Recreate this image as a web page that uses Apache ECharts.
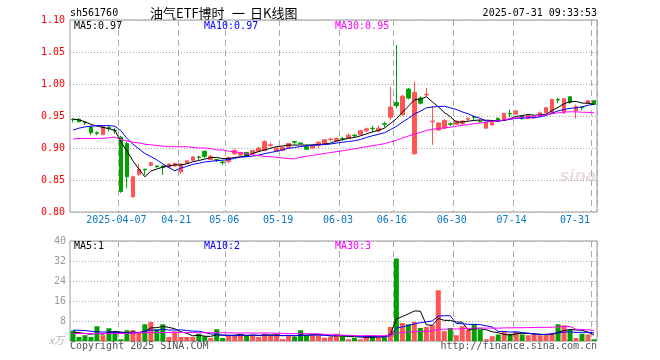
<!DOCTYPE html>
<html><head><meta charset="utf-8">
<script src="https://cdn.jsdelivr.net/npm/echarts@6/dist/echarts.min.js"></script>
<style>html,body{margin:0;padding:0;background:#fff}#c{width:660px;height:360px}</style>
</head><body><div id="c"></div>
<script>
const dates = [
'2025-03-25','2025-03-26','2025-03-27','2025-03-28','2025-03-31',
'2025-04-01','2025-04-02','2025-04-03','2025-04-07','2025-04-08','2025-04-09','2025-04-10','2025-04-11',
'2025-04-14','2025-04-15','2025-04-16','2025-04-17','2025-04-18',
'2025-04-21','2025-04-22','2025-04-23','2025-04-24','2025-04-25',
'2025-04-28','2025-04-29','2025-04-30',
'2025-05-06','2025-05-07','2025-05-08','2025-05-09',
'2025-05-12','2025-05-13','2025-05-14','2025-05-15','2025-05-16',
'2025-05-19','2025-05-20','2025-05-21','2025-05-22','2025-05-23',
'2025-05-26','2025-05-27','2025-05-28','2025-05-29','2025-05-30',
'2025-06-03','2025-06-04','2025-06-05','2025-06-06',
'2025-06-09','2025-06-10','2025-06-11','2025-06-12','2025-06-13',
'2025-06-16','2025-06-17','2025-06-18','2025-06-19','2025-06-20',
'2025-06-23','2025-06-24','2025-06-25','2025-06-26','2025-06-27',
'2025-06-30','2025-07-01','2025-07-02','2025-07-03','2025-07-04',
'2025-07-07','2025-07-08','2025-07-09','2025-07-10','2025-07-11',
'2025-07-14','2025-07-15','2025-07-16','2025-07-17','2025-07-18',
'2025-07-21','2025-07-22','2025-07-23','2025-07-24','2025-07-25',
'2025-07-28','2025-07-29','2025-07-30','2025-07-31'];

const tickDates = ['2025-04-07','2025-04-21','2025-05-06','2025-05-19','2025-06-03','2025-06-16','2025-06-30','2025-07-14','2025-07-31'];
const tickTexts = ['2025-04-07','04-21','05-06','05-19','06-03','06-16','06-30','07-14','07-31'];

const opens = [
0.945,0.945,0.940,0.933,0.924,0.921,0.932,0.928,0.917,0.907,
0.824,0.859,0.867,0.873,0.872,0.872,0.870,0.872,0.863,0.876,
0.881,0.886,0.895,0.882,0.882,0.878,0.879,0.891,0.889,0.893,
0.891,0.895,0.896,0.904,0.895,0.896,0.901,0.910,0.908,0.902,
0.900,0.904,0.907,0.913,0.911,0.915,0.915,0.920,0.921,0.927,
0.931,0.927,0.938,0.948,0.971,0.952,0.992,0.891,0.978,0.983,
0.941,0.928,0.931,0.938,0.937,0.938,0.945,0.949,0.942,0.931,
0.936,0.946,0.943,0.954,0.953,0.950,0.946,0.947,0.950,0.955,
0.955,0.976,0.955,0.980,0.958,0.964,0.970,0.974];
const closes = [
0.944,0.941,0.939,0.924,0.923,0.934,0.931,0.927,0.832,0.855,
0.855,0.867,0.866,0.877,0.871,0.870,0.875,0.876,0.875,0.880,
0.886,0.885,0.887,0.887,0.881,0.877,0.885,0.896,0.893,0.887,
0.896,0.900,0.910,0.905,0.900,0.901,0.907,0.909,0.907,0.898,
0.904,0.909,0.913,0.914,0.915,0.914,0.920,0.919,0.927,0.930,
0.930,0.931,0.937,0.964,0.966,0.981,0.978,0.987,0.970,0.984,
0.942,0.939,0.943,0.937,0.942,0.942,0.946,0.948,0.941,0.940,
0.940,0.942,0.954,0.953,0.958,0.946,0.951,0.948,0.955,0.963,
0.976,0.975,0.977,0.971,0.965,0.963,0.974,0.968];
const lows = [
0.940,0.940,0.936,0.920,0.920,0.920,0.926,0.922,0.830,0.837,
0.822,0.857,0.858,0.871,0.869,0.858,0.869,0.870,0.859,0.875,
0.880,0.881,0.884,0.881,0.878,0.874,0.876,0.889,0.888,0.886,
0.890,0.894,0.895,0.901,0.894,0.895,0.900,0.905,0.906,0.897,
0.899,0.900,0.906,0.910,0.910,0.911,0.914,0.916,0.920,0.925,
0.925,0.924,0.932,0.944,0.962,0.950,0.976,0.890,0.968,0.980,
0.905,0.927,0.930,0.934,0.936,0.936,0.943,0.943,0.940,0.930,
0.935,0.941,0.942,0.948,0.952,0.944,0.945,0.946,0.949,0.954,
0.954,0.970,0.953,0.969,0.946,0.959,0.969,0.967];
const highs = [
0.947,0.946,0.942,0.934,0.926,0.935,0.936,0.931,0.919,0.909,
0.857,0.875,0.867,0.878,0.873,0.873,0.876,0.877,0.876,0.881,
0.887,0.888,0.896,0.889,0.883,0.880,0.887,0.899,0.894,0.894,
0.897,0.901,0.912,0.909,0.901,0.902,0.908,0.910,0.908,0.906,
0.905,0.910,0.914,0.916,0.916,0.917,0.923,0.922,0.928,0.932,
0.934,0.935,0.941,0.996,1.061,0.983,0.994,1.004,0.981,0.994,
0.966,0.940,0.945,0.940,0.943,0.944,0.948,0.950,0.944,0.941,
0.941,0.948,0.955,0.960,0.959,0.951,0.952,0.950,0.957,0.964,
0.977,0.978,0.978,0.981,0.968,0.964,0.975,0.975];

// volume, 万
const volumes = [
4.2,1.6,2.3,1.6,5.9,2.3,5.1,3.9,0.7,4.3,
4.3,3.4,6.7,7.6,4.7,6.7,1.6,3.9,1.6,1.6,
1.6,2.9,1.9,1.2,4.7,1.2,2.3,2.3,2.6,2.3,
2.3,1.6,2.9,2.3,2.9,0.8,2.3,1.6,4.3,2.3,
2.3,2.3,1.3,1.6,2.9,2.3,0.7,1.3,0.7,2.3,
2.3,1.6,1.6,5.6,33.0,7.2,6.7,7.6,5.2,5.6,
6.3,20.3,3.9,5.2,2.3,5.9,4.5,6.9,4.5,0.7,
1.9,2.6,3.6,2.9,3.6,2.6,2.3,2.9,2.3,2.3,
3.3,6.7,6.3,4.5,1.2,2.9,2.6,0.7];

// moving-average values at the left edge (history before the window)
const ma5Head = [0.945,0.944,0.941,0.937];
const ma10Head = [0.928,0.931,0.933,0.934,0.935,0.935,0.935,0.934,0.927];
const ma30Head = [0.914,0.915,0.915,0.915,0.915,0.915,0.916,0.917,0.913,0.911,
0.909,0.908,0.906,0.905,0.904,0.903,0.902,0.902,0.902,0.902,
0.901,0.900,0.900,0.899,0.897,0.897,0.895,0.894,0.893];
const vma5Head = [3.6,3.3,3.0,2.7];
const vma10Head = [4.3,4.3,4.2,3.9,3.7,3.6,3.6,3.5,3.4];
const vma30Head = [3.0,3.0,3.0,3.0,3.0,3.0,3.0,3.0,3.0,3.0,
3.2,3.3,3.3,3.4,3.4,3.4,3.4,3.4,3.4,3.4,
3.4,3.3,3.3,3.3,3.3,3.3,3.3,3.2,3.2];

const priceMin = 0.80, priceMax = 1.10, priceStep = 0.05;
const volMin = 0, volMax = 40, volStep = 8;

const RED = '#ff5555', GREEN = '#00a000';
const MONO = 'DejaVu Sans Mono';
const CJK = '13px "Noto Sans CJK SC"';

function movingAvg(vals, n, head) {
  return vals.map((v, i) => {
    if (i < n - 1) return head[i];
    let s = 0; for (let k = i - n + 1; k <= i; k++) s += vals[k];
    return +(s / n).toFixed(4);
  });
}

const ohlc = dates.map((d, i) => [opens[i], closes[i], lows[i], highs[i]]);
const volData = volumes.map((v, i) => ({value: v, itemStyle: {color: closes[i] > opens[i] ? RED : GREEN}}));
const tickSet = new Set(tickDates.map(d => dates.indexOf(d)));
const isTick = (idx) => tickSet.has(idx);

const chart = echarts.init(document.getElementById('c'), null, {renderer: 'canvas'});

const vDash = {show: true, interval: isTick, lineStyle: {color: '#aaa', type: [6, 4], width: 1}};
const hDot = {show: true, lineStyle: {color: '#aaa', type: [1, 2], width: 1}};

function txt(x, y, text, fill, align, font) {
  return {type: 'text', x: x, y: y, silent: true, z: 100,
    style: {text: text, fill: fill, align: align || 'left', verticalAlign: 'middle', font: font || ('10px ' + MONO)}};
}

chart.setOption({
  animation: false,
  backgroundColor: '#fff',
  grid: [
    {left: 70, top: 20, width: 527, height: 192, show: true, borderColor: '#999', borderWidth: 1},
    {left: 70, top: 241, width: 527, height: 100, show: true, borderColor: '#999', borderWidth: 1}
  ],
  xAxis: [
    {type: 'category', gridIndex: 0, data: dates, boundaryGap: true,
      axisLine: {show: false}, axisTick: {show: false}, splitLine: vDash,
      axisLabel: {show: true, interval: isTick, margin: 3, alignMaxLabel: 'right',
        color: '#0a78c8', fontFamily: MONO, fontSize: 10,
        formatter: (val) => {
          const k = tickDates.indexOf(val);
          const t = tickTexts[k];
          return k === tickDates.length - 1 ? '{r|' + t + '}' : '{n|' + t + '}';
        },
        rich: {
          n: {padding: [0, 9, 0, 0], color: '#0a78c8', fontFamily: MONO, fontSize: 10},
          r: {padding: [0, 4, 0, 0], color: '#0a78c8', fontFamily: MONO, fontSize: 10}
        }}},
    {type: 'category', gridIndex: 1, data: dates, boundaryGap: true,
      axisLine: {show: false}, axisTick: {show: false}, axisLabel: {show: false}, splitLine: vDash}
  ],
  yAxis: [
    {type: 'value', gridIndex: 0, min: priceMin, max: priceMax, interval: priceStep,
      axisLine: {show: false}, axisTick: {show: false}, splitLine: hDot,
      axisLabel: {color: '#ff0000', margin: 5, fontFamily: MONO, fontSize: 10,
        formatter: v => v.toFixed(2)}},
    {type: 'value', gridIndex: 1, min: volMin, max: volMax, interval: volStep,
      axisLine: {show: false}, axisTick: {show: false}, splitLine: hDot,
      axisLabel: {color: '#999', margin: 4, fontFamily: MONO, fontSize: 10,
        formatter: v => v === 0 ? '' : String(v)}}
  ],
  series: [
    {type: 'candlestick', xAxisIndex: 0, yAxisIndex: 0, data: ohlc, barWidth: 4,
      itemStyle: {color: RED, color0: GREEN, borderColor: RED, borderColor0: GREEN, borderWidth: 1}, z: 2},
    {type: 'line', xAxisIndex: 0, yAxisIndex: 0, data: movingAvg(closes, 5, ma5Head), symbol: 'none',
      lineStyle: {color: '#000', width: 1}, z: 3},
    {type: 'line', xAxisIndex: 0, yAxisIndex: 0, data: movingAvg(closes, 10, ma10Head), symbol: 'none',
      lineStyle: {color: '#0000ff', width: 1}, z: 3},
    {type: 'line', xAxisIndex: 0, yAxisIndex: 0, data: movingAvg(closes, 30, ma30Head), symbol: 'none',
      lineStyle: {color: '#ff00ff', width: 1}, z: 3},
    {type: 'bar', xAxisIndex: 1, yAxisIndex: 1, data: volData, barWidth: 5, z: 2},
    {type: 'line', xAxisIndex: 1, yAxisIndex: 1, data: movingAvg(volumes, 5, vma5Head), symbol: 'none',
      lineStyle: {color: '#000', width: 1}, z: 3},
    {type: 'line', xAxisIndex: 1, yAxisIndex: 1, data: movingAvg(volumes, 10, vma10Head), symbol: 'none',
      lineStyle: {color: '#0000ff', width: 1}, z: 3},
    {type: 'line', xAxisIndex: 1, yAxisIndex: 1, data: movingAvg(volumes, 30, vma30Head), symbol: 'none',
      lineStyle: {color: '#ff00ff', width: 1}, z: 3}
  ],
  graphic: [
    txt(70, 13, 'sh561760', '#000'),
    txt(150, 13, '油气ETF博时', '#000', 'left', CJK),
    txt(232, 13, '一', '#000', 'left', CJK),
    txt(250, 13, '日K线图', '#000', 'left', CJK),
    txt(597, 13, '2025-07-31 09:33:53', '#000', 'right'),
    txt(74, 26, 'MA5:0.97', '#000'),
    txt(204, 26, 'MA10:0.97', '#0000ff'),
    txt(335, 26, 'MA30:0.95', '#ff00ff'),
    txt(74, 246, 'MA5:1', '#000'),
    txt(204, 246, 'MA10:2', '#0000ff'),
    txt(335, 246, 'MA30:3', '#ff00ff'),
    txt(64, 340, 'x万', '#b0b0b0', 'right', 'italic 10px "Noto Sans CJK SC"'),
    txt(70, 346, 'Copyright 2025 SINA.COM', '#555'),
    txt(597, 346, 'http://finance.sina.com.cn', '#555', 'right'),
    txt(578, 177, 'sina', 'rgba(190,150,150,0.3)', 'center', 'italic bold 16px "DejaVu Sans"')
  ]
});
</script>
</body></html>
